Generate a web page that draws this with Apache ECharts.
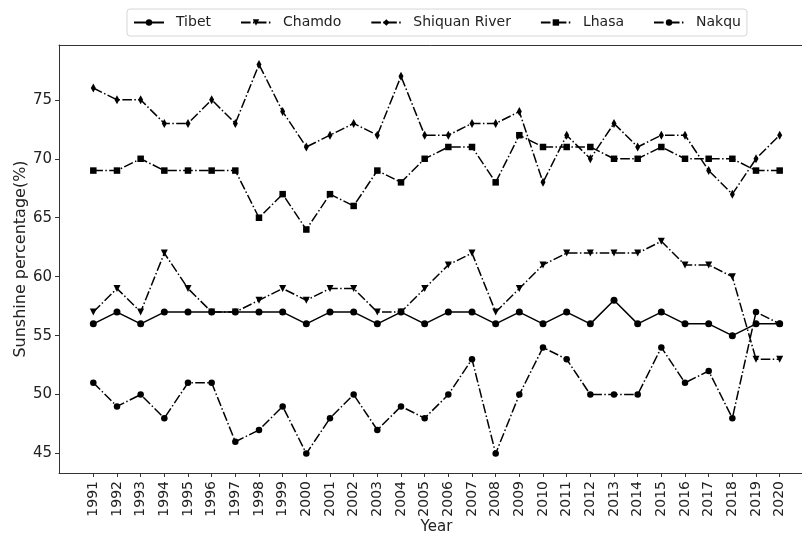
<!DOCTYPE html>
<html>
<head>
<meta charset="utf-8">
<script src="https://cdn.jsdelivr.net/npm/echarts@6/dist/echarts.min.js"></script>
<style>html,body{margin:0;padding:0;background:#fff;}#c{width:802px;height:535px;}</style>
</head>
<body>
<div id="c"></div>
<script>
const years = [1991,1992,1993,1994,1995,1996,1997,1998,1999,2000,2001,2002,2003,2004,2005,2006,2007,2008,2009,2010,2011,2012,2013,2014,2015,2016,2017,2018,2019,2020];
const tibet   = [56,57,56,57,57,57,57,57,57,56,57,57,56,57,56,57,57,56,57,56,57,56,58,56,57,56,56,55,56,56];
const chamdo  = [57,59,57,62,59,57,57,58,59,58,59,59,57,57,59,61,62,57,59,61,62,62,62,62,63,61,61,60,53,53];
const shiquan = [76,75,75,73,73,75,73,78,74,71,72,73,72,77,72,72,73,73,74,68,72,70,73,71,72,72,69,67,70,72];
const lhasa   = [69,69,70,69,69,69,69,65,67,64,67,66,69,68,70,71,71,68,72,71,71,71,70,70,71,70,70,70,69,69];
const nakqu   = [51,49,50,48,51,51,46,47,49,45,48,50,47,49,48,50,53,45,50,54,53,50,50,50,54,51,52,48,57,56];
const yTicks  = [45,50,55,60,65,70,75];
const seriesNames = ['Tibet','Chamdo','Shiquan River','Lhasa','Nakqu'];

const FONT = 'DejaVu Sans';
const dashDot = [9.6, 2.4, 1.5, 2.4];
const pairs = arr => years.map((y, i) => [y, arr[i]]);

function mk(name, data, symbol, size, dashed, rotate) {
  return {
    name: name, type: 'line', data: pairs(data),
    symbol: symbol, symbolSize: size, symbolRotate: rotate || 0,
    showSymbol: true, animation: false,
    lineStyle: { color: '#000', width: 1.5, type: dashed ? dashDot : 'solid' },
    itemStyle: { color: '#000', borderWidth: 0 },
    emphasis: { disabled: true }
  };
}

const chart = echarts.init(document.getElementById('c'), null, { renderer: 'canvas' });
chart.setOption({
  animation: false,
  backgroundColor: '#fff',
  textStyle: { fontFamily: FONT },
  legend: {
    data: seriesNames,
    left: 127, top: 9,
    padding: [6, 6, 6, 6],
    itemWidth: 30, itemHeight: 8, itemGap: 29,
    backgroundColor: '#fff',
    borderColor: '#d6d6d6', borderWidth: 1, borderRadius: 3,
    textStyle: { fontFamily: FONT, fontSize: 14, color: '#222', padding: [0, 0, 0, 7], lineHeight: 15 }
  },
  grid: { left: 59, right: -12, top: 45, bottom: 62, outerBoundsMode: 'none', containLabel: false },
  xAxis: [{
    type: 'value', min: 1989.55, max: 2021.45,
    name: 'Year', nameLocation: 'middle', nameGap: 47, nameMoveOverlap: false,
    nameTextStyle: { fontFamily: FONT, fontSize: 15, color: '#222' },
    axisLine: { show: true, lineStyle: { color: '#333', width: 1 } },
    axisTick: { show: true, length: 4, lineStyle: { color: '#333' }, customValues: years },
    axisLabel: { rotate: 90, fontFamily: FONT, fontSize: 14, color: '#222', margin: 8, customValues: years, formatter: v => String(v) },
    splitLine: { show: false }
  }, {
    type: 'value', position: 'top', min: 1989.55, max: 2021.45,
    axisLine: { show: true, lineStyle: { color: '#333', width: 1 } },
    axisTick: { show: false }, axisLabel: { show: false }, splitLine: { show: false }
  }],
  yAxis: {
    type: 'value', min: 43.35, max: 79.65,
    name: 'Sunshine percentage(%)', nameLocation: 'middle', nameGap: 30, nameMoveOverlap: false,
    nameTextStyle: { fontFamily: FONT, fontSize: 16, color: '#222' },
    axisLine: { show: true, lineStyle: { color: '#333', width: 1 } },
    axisTick: { show: true, length: 4, lineStyle: { color: '#333' }, customValues: yTicks },
    axisLabel: { fontFamily: FONT, fontSize: 15, color: '#222', margin: 7, customValues: yTicks },
    splitLine: { show: false }
  },
  series: [
    mk('Tibet', tibet, 'circle', 7, false),
    mk('Chamdo', chamdo, 'triangle', 7, true, 180),
    mk('Shiquan River', shiquan, 'diamond', [5, 9], true),
    mk('Lhasa', lhasa, 'rect', 6.5, true),
    mk('Nakqu', nakqu, 'circle', 6.5, true)
  ]
});
</script>
</body>
</html>
